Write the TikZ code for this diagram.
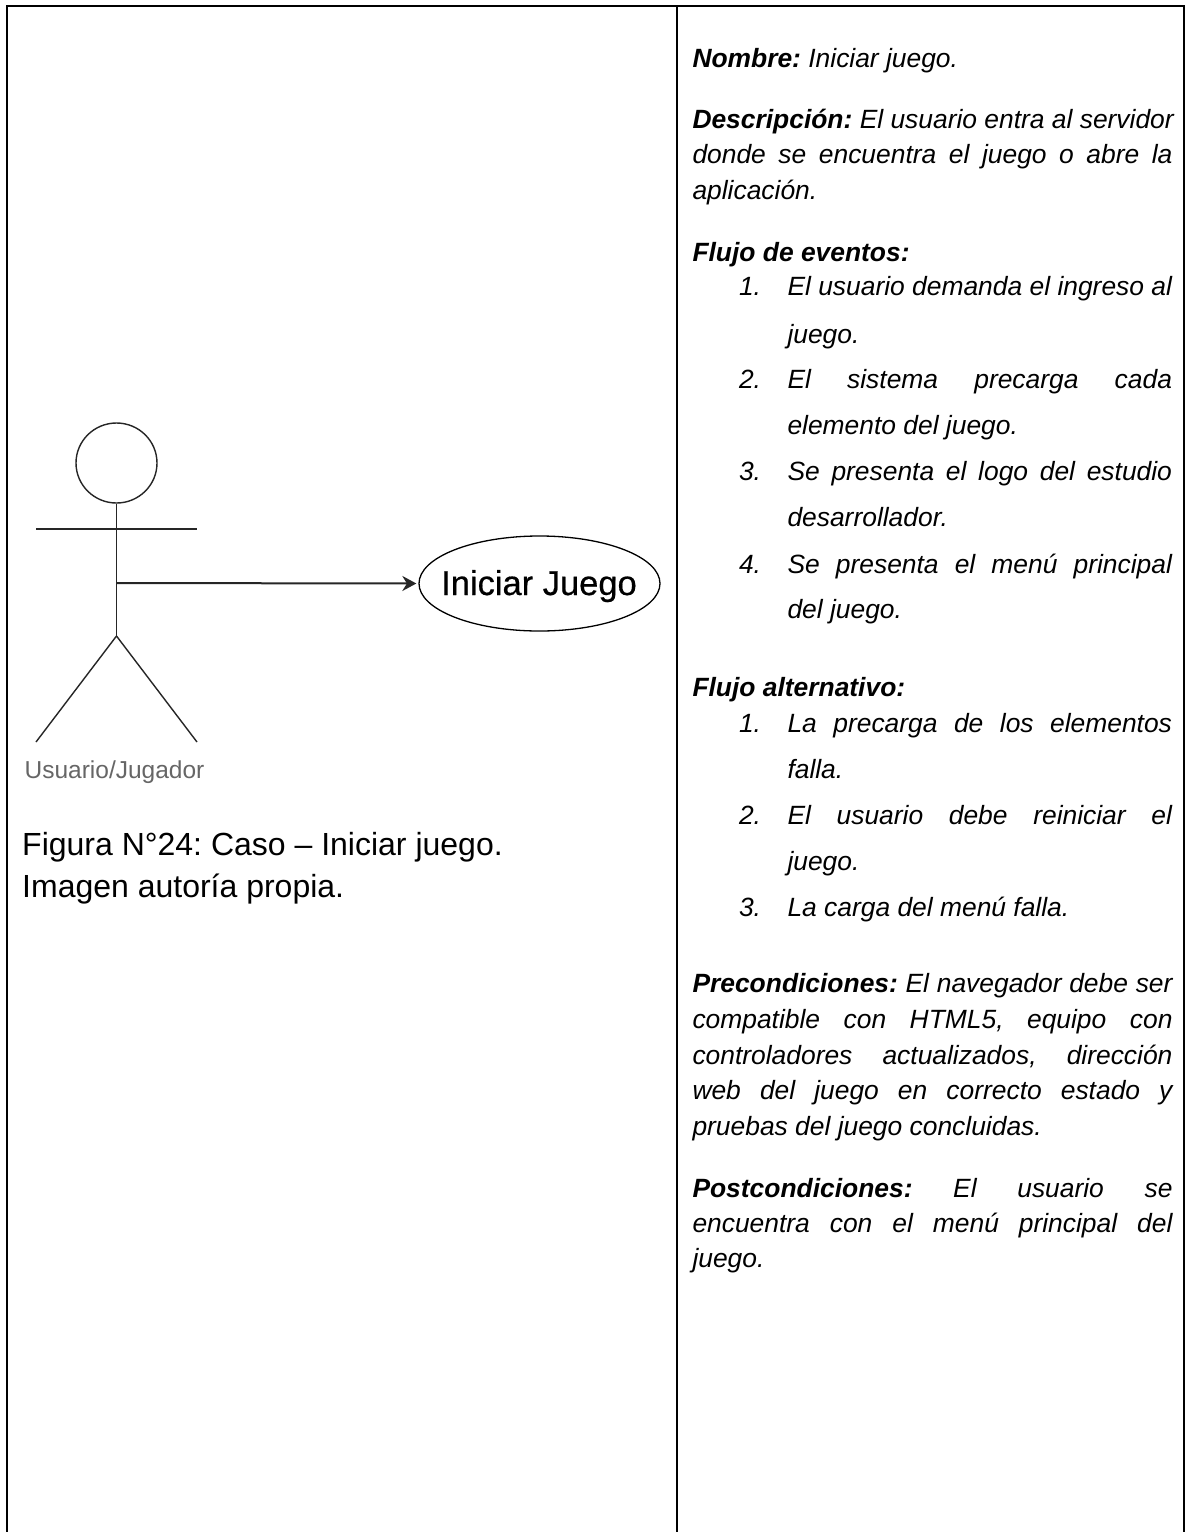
\documentclass[tikz,border=0pt]{standalone}
\usepackage{fontspec}
\setmainfont{Liberation Sans}
\usetikzlibrary{shapes.geometric,arrows.meta}
\frenchspacing
\newcommand{\jfont}{\fontsize{26.4}{30}\selectfont\itshape}
\newcommand{\lab}[1]{\textbf{#1}}
\newcommand{\jline}[5]{\node[linetxt] (#1) at (#2,#3) {\hbox to #4pt{\spaceskip=0.278em plus 1fil\relax #5}};}
\newcommand{\pline}[4]{\node[linetxt] (#1) at (#2,#3) {#4};}
\tikzset{
  linetxt/.style={anchor=base west,inner sep=0pt,outer sep=0pt,font=\jfont,text=black},
  border/.style={line width=2pt,black},
  actorline/.style={line width=1.4pt,draw=black!85},
}
\begin{document}
\begin{tikzpicture}[x=1pt,y=-1pt]
\useasboundingbox (0,0) rectangle (1186,1532);
\fill[white] (0,0) rectangle (1186,1532);
% table
\coordinate (tl) at (7,6); \coordinate (tm) at (677,6); \coordinate (tr) at (1184,6);
\coordinate (bl) at (7,1532); \coordinate (bm) at (677,1532); \coordinate (br) at (1184,1532);
\draw[border] (bl) -- (tl) -- (tr) -- (br);
\draw[border] (tm) -- (bm);
% actor
\node[ellipse,draw=black!85,line width=1.4pt,minimum width=81pt,minimum height=80pt,inner sep=0pt] (head) at (116.5,463) {};
\coordinate (arml) at (36,529); \coordinate (armr) at (197,529);
\coordinate (hip) at (116.5,636); \coordinate (footl) at (36,742); \coordinate (footr) at (197,742);
\coordinate (torso) at (116.5,583);
\draw[actorline] (head.south) -- (hip);
\draw[actorline] (arml) -- (armr);
\draw[actorline] (footl) -- (hip) -- (footr);
\node[ellipse,draw=black,line width=1.3pt,minimum width=241pt,minimum height=95pt,inner sep=0pt] (uc) at (539.5,583.5) {};
\node[inner sep=0pt,anchor=base,font=\fontsize{34.5}{36}\selectfont,text=black] (uctext) at (539,595) {\addfontfeatures{FakeBold=0.5}Iniciar Juego};
\draw[line width=2pt,-{Stealth[length=14pt,width=15pt]},draw=black!85,shorten >=2pt] (torso) -- (uc.west);
\node[inner sep=0pt,anchor=base,font=\fontsize{24.5}{26}\selectfont,text=black!60] (actorname) at (114.5,778) {Usuario/Jugador};
\node[inner sep=0pt,anchor=base west,font=\fontsize{32}{36}\selectfont] (cap1) at (22,855) {Figura N°24: Caso – Iniciar juego.};
\node[inner sep=0pt,anchor=base west,font=\fontsize{32}{36}\selectfont] (cap2) at (22,897) {Imagen autoría propia.};
% right column
\pline{a1}{692.5}{67}{\lab{Nombre:} Iniciar juego.}
\jline{b1}{692.5}{128}{480}{\lab{Descripción:} El usuario entra al servidor}
\jline{b2}{692.5}{163}{480}{donde se encuentra el juego o abre la}
\pline{b3}{692.5}{199}{aplicación.}
\pline{c0}{692.5}{261}{\lab{Flujo de eventos:}}
\pline{c1n}{739}{295}{1.}
\jline{c1}{787.5}{295}{384.5}{El usuario demanda el ingreso al}
\pline{c1b}{787.5}{343}{juego.}
\pline{c2n}{739}{388}{2.}
\jline{c2}{787.5}{388}{384.5}{El sistema precarga cada}
\pline{c2b}{787.5}{434}{elemento del juego.}
\pline{c3n}{739}{480}{3.}
\jline{c3}{787.5}{480}{384.5}{Se presenta el logo del estudio}
\pline{c3b}{787.5}{526}{desarrollador.}
\pline{c4n}{739}{573}{4.}
\jline{c4}{787.5}{573}{384.5}{Se presenta el menú principal}
\pline{c4b}{787.5}{618}{del juego.}
\pline{d0}{692.5}{696}{\lab{Flujo alternativo:}}
\pline{d1n}{739}{732}{1.}
\jline{d1}{787.5}{732}{384.5}{La precarga de los elementos}
\pline{d1b}{787.5}{778}{falla.}
\pline{d2n}{739}{824}{2.}
\jline{d2}{787.5}{824}{384.5}{El usuario debe reiniciar el}
\pline{d2b}{787.5}{870}{juego.}
\pline{d3n}{739}{916}{3.}
\pline{d3}{787.5}{916}{La carga del menú falla.}
\jline{e1}{692.5}{992}{480}{\lab{Precondiciones:} El navegador debe ser}
\jline{e2}{692.5}{1028}{480}{compatible con HTML5, equipo con}
\jline{e3}{692.5}{1064}{480}{controladores actualizados, dirección}
\jline{e4}{692.5}{1099}{480}{web del juego en correcto estado y}
\pline{e5}{692.5}{1135}{pruebas del juego concluidas.}
\jline{f1}{692.5}{1197}{480}{\lab{Postcondiciones:} El usuario se}
\jline{f2}{692.5}{1232}{480}{encuentra con el menú principal del}
\pline{f3}{692.5}{1267}{juego.}
\end{tikzpicture}
\end{document}
